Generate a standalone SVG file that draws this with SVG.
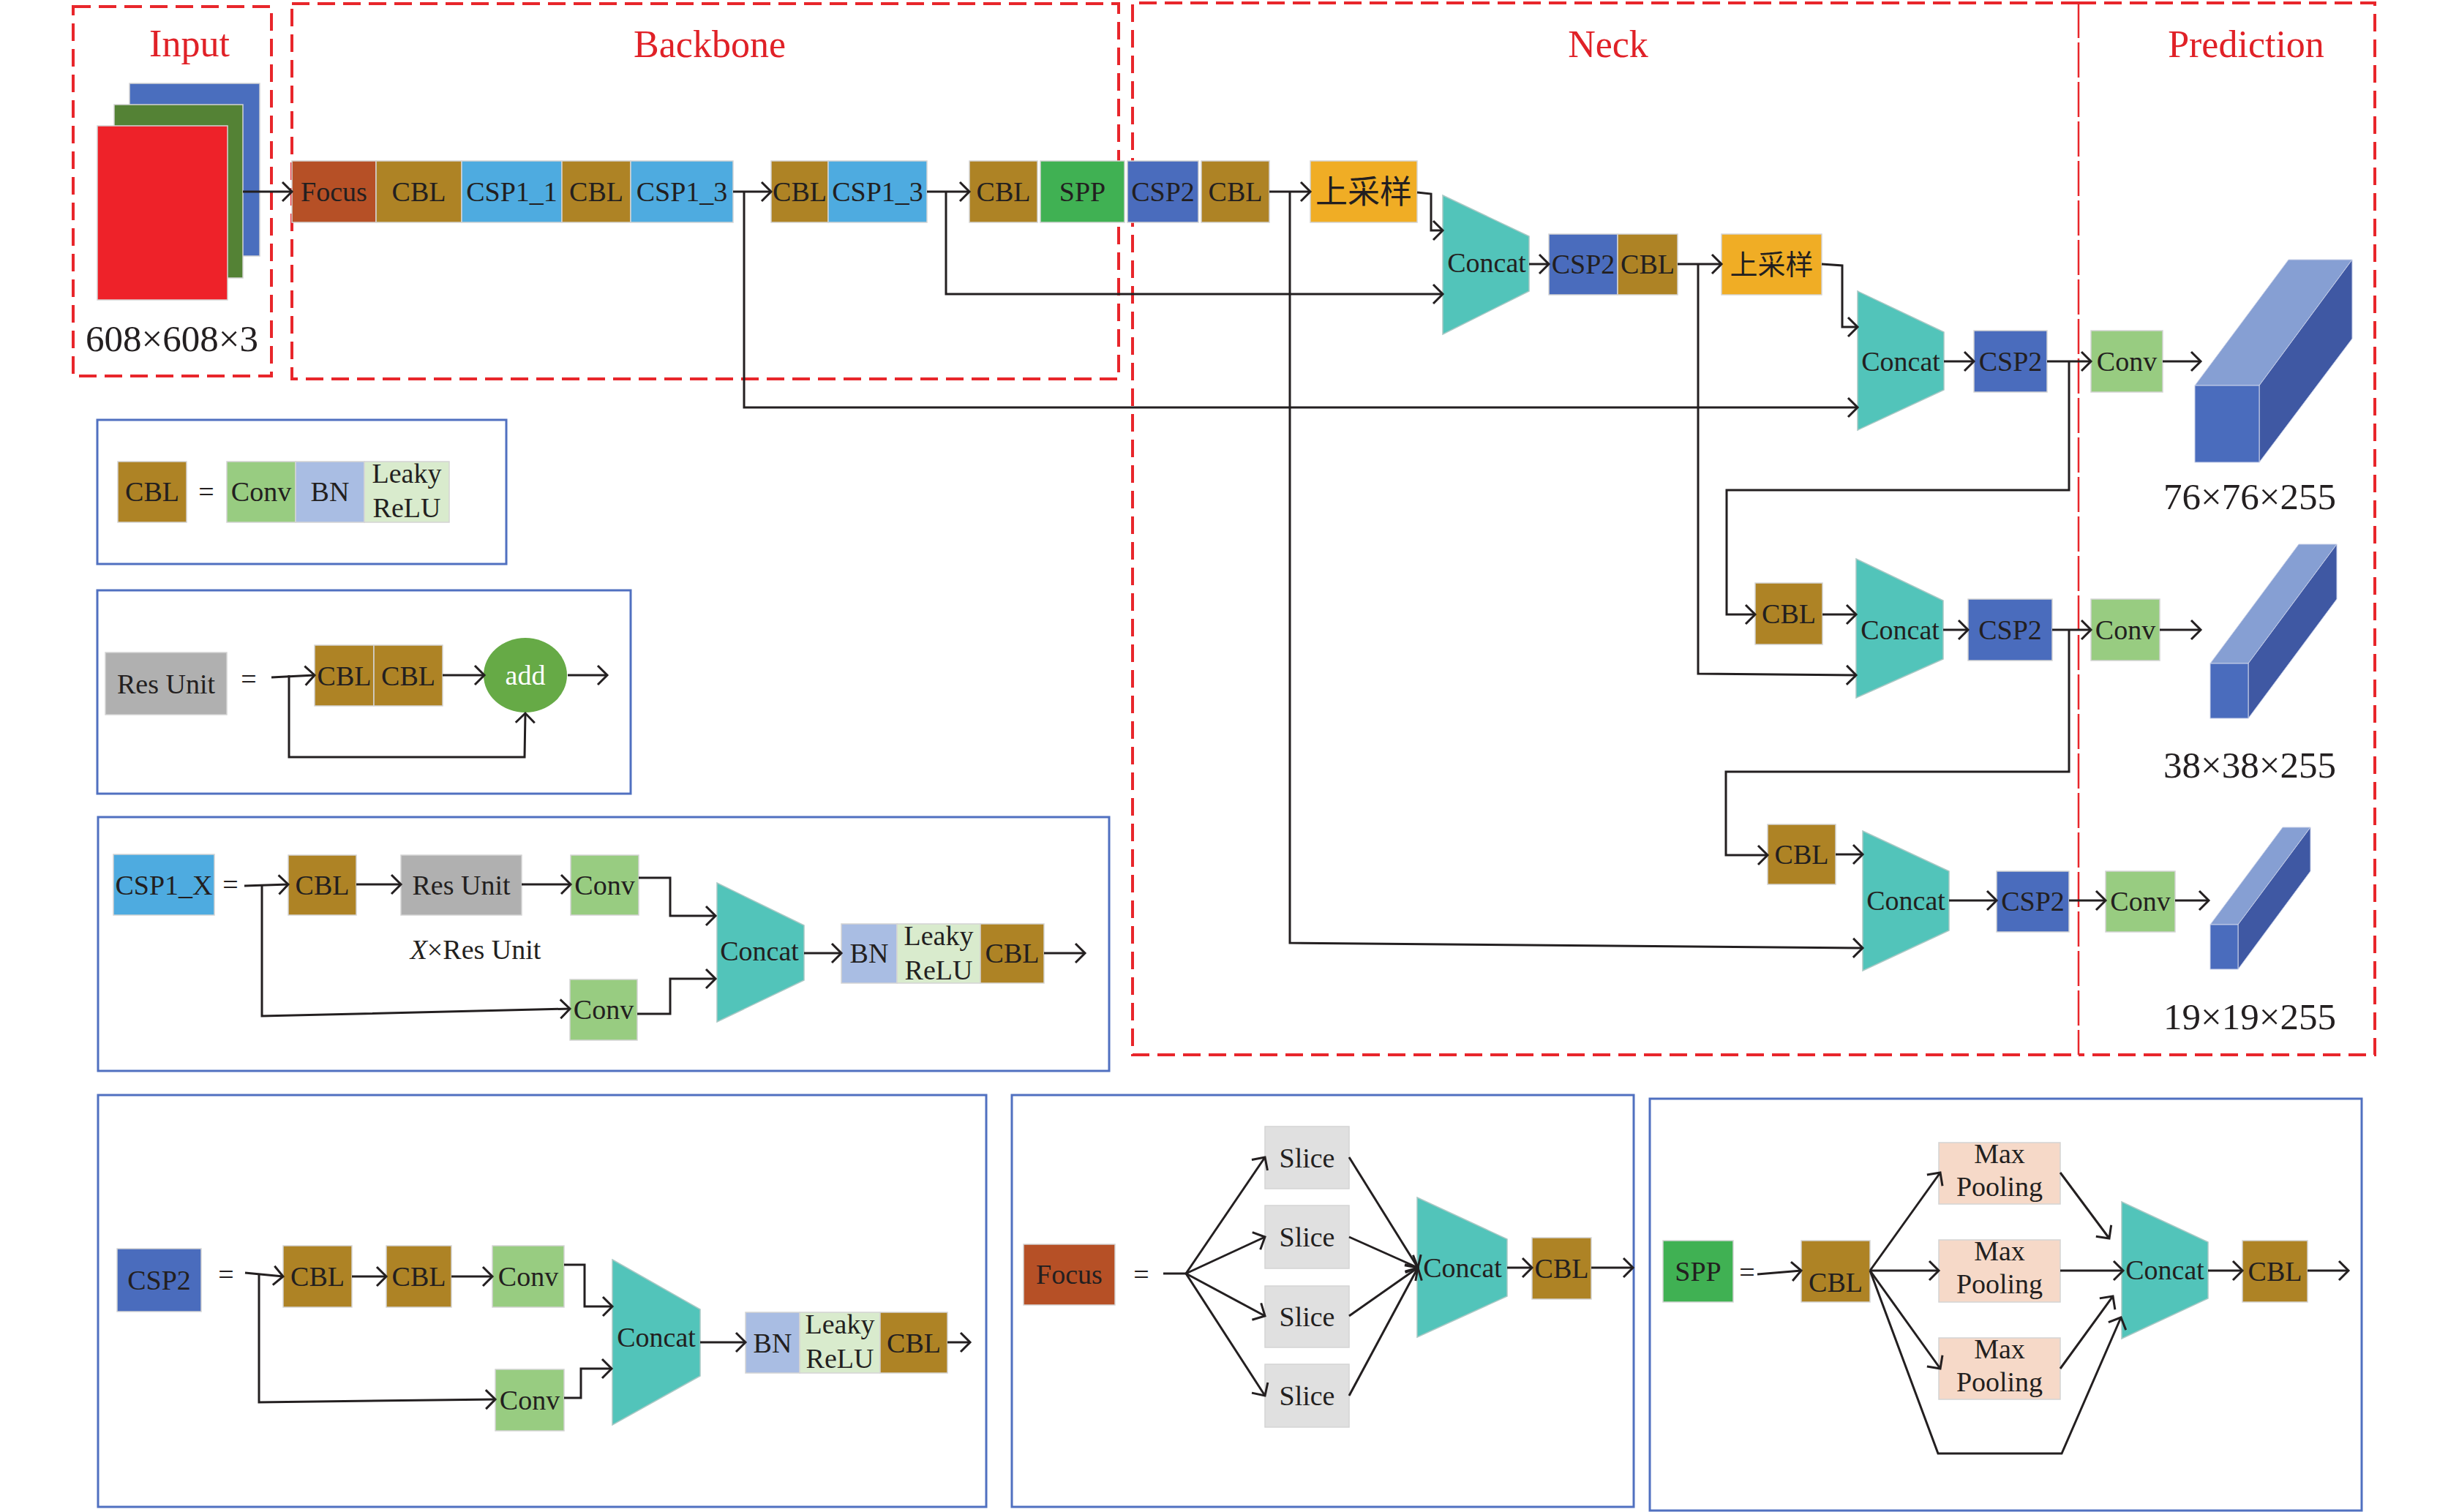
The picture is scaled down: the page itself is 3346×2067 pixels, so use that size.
<svg xmlns="http://www.w3.org/2000/svg" width="3346" height="2067" viewBox="0 0 3346 2067">
<style>
text{font-family:"Liberation Serif","Times New Roman",serif;font-size:38px;fill:#231F20;text-anchor:middle}
.title{font-size:52px;fill:#E02127}
.num{font-size:51px}
.cjk{font-family:"Noto Sans CJK SC","Noto Sans CJK JP",sans-serif}
.w{fill:#FFFFFF}
.ln{fill:none;stroke:#231F20;stroke-width:3;marker-end:url(#ah)}
.pl{fill:none;stroke:#231F20;stroke-width:3}
.dash{fill:none;stroke:#E8262B;stroke-width:4;stroke-dasharray:24 11}
.div{fill:none;stroke:#E8262B;stroke-width:2.5;stroke-dasharray:48 6}
.lg{fill:none;stroke:#5070C0;stroke-width:3}
.b{stroke:#D4D4D4;stroke-width:1.5}
.cbl{fill:#AE8325}.focus{fill:#B65026}.csp1{fill:#4EABE0}.csp2{fill:#4A6CBD}.spp{fill:#40B153}
.ups{fill:#F0AD25}.conv{fill:#98CC81}.bn{fill:#A9BDE3}.leaky{fill:#D9EBCD}.res{fill:#B0B0B0}
.slice{fill:#E0E0E0}.mp{fill:#F6D9C8}.concat{fill:#52C4BA;stroke:#A8C8C4;stroke-width:1.5}
.front{fill:#4A6CBD;stroke:#C8D0E8;stroke-width:1}.top{fill:#869FD3;stroke:#C8D0E8;stroke-width:1}.side{fill:#3F58A3;stroke:#C8D0E8;stroke-width:1}
</style>
<defs>
<marker id="ah" markerUnits="userSpaceOnUse" markerWidth="18" markerHeight="30" refX="15" refY="15" orient="auto">
<path d="M2,2 L15,15 L2,28" fill="none" stroke="#231F20" stroke-width="3"/>
</marker>
</defs>
<rect width="3346" height="2067" fill="#FFFFFF"/>

<g id="frames">
<rect class="dash" x="100" y="9" width="271" height="505"/>
<rect class="dash" x="399" y="5" width="1130" height="513"/>
<path class="dash" d="M2841,4 H1548 V1442 H2841"/>
<path class="dash" d="M2841,4 H3246 V1442 H2841"/>
<path class="div" d="M2841,4 V1442"/>
<text class="title" x="259" y="77">Input</text>
<text class="title" x="970" y="78">Backbone</text>
<text class="title" x="2198" y="78">Neck</text>
<text class="title" x="3070" y="78">Prediction</text>
</g>

<g id="input">
<rect x="177" y="114" width="178" height="236" fill="#4A6EBE" class="b"/>
<rect x="156" y="143" width="176" height="237" fill="#548235" class="b"/>
<rect x="133" y="172" width="178" height="238" fill="#EE2229" class="b"/>
<text class="num" x="235" y="480">608×608×3</text>
</g>

<g id="backbone">
<rect class="focus b" x="399" y="220" width="115" height="84"/><text x="456.5" y="275">Focus</text>
<rect class="cbl b" x="514" y="220" width="117" height="84"/><text x="572.5" y="275">CBL</text>
<rect class="csp1 b" x="631" y="220" width="137" height="84"/><text x="699.5" y="275">CSP1_1</text>
<rect class="cbl b" x="768" y="220" width="94" height="84"/><text x="815" y="275">CBL</text>
<rect class="csp1 b" x="862" y="220" width="140" height="84"/><text x="932" y="275">CSP1_3</text>
<rect class="cbl b" x="1054" y="220" width="78" height="84"/><text x="1093" y="275">CBL</text>
<rect class="csp1 b" x="1132" y="220" width="135" height="84"/><text x="1199.5" y="275">CSP1_3</text>
<rect class="cbl b" x="1325" y="220" width="93" height="84"/><text x="1371.5" y="275">CBL</text>
<rect class="spp b" x="1422" y="220" width="115" height="84"/><text x="1479.5" y="275">SPP</text>
</g>

<g id="neck">
<rect class="csp2 b" x="1541" y="220" width="97" height="84"/><text x="1589.5" y="275">CSP2</text>
<rect class="cbl b" x="1642" y="220" width="93" height="84"/><text x="1688.5" y="275">CBL</text>
<rect class="ups b" x="1791" y="220" width="146" height="84"/><text class="cjk" x="1864" y="278" style="font-size:44px">上采样</text>
<polygon class="concat" points="1972,267 2090,323 2090,398 1972,457"/><text x="2032" y="372">Concat</text>
<rect class="csp2 b" x="2117" y="320" width="94" height="83"/><text x="2164" y="374">CSP2</text>
<rect class="cbl b" x="2211" y="320" width="82" height="83"/><text x="2252" y="374">CBL</text>
<rect class="ups b" x="2353" y="320" width="137" height="83"/><text class="cjk" x="2421.5" y="375">上采样</text>
<polygon class="concat" points="2539,398 2657,454 2657,533 2539,588"/><text x="2598" y="507">Concat</text>
<rect class="csp2 b" x="2698" y="452" width="100" height="84"/><text x="2748" y="507">CSP2</text>
<rect class="cbl b" x="2399" y="797" width="92" height="84"/><text x="2445" y="852">CBL</text>
<polygon class="concat" points="2537,764 2656,821 2656,901 2537,954"/><text x="2597" y="874">Concat</text>
<rect class="csp2 b" x="2690" y="819" width="115" height="84"/><text x="2747.5" y="874">CSP2</text>
<rect class="cbl b" x="2416" y="1127" width="93" height="82"/><text x="2462.5" y="1181">CBL</text>
<polygon class="concat" points="2546,1136 2664,1191 2664,1272 2546,1327"/><text x="2605" y="1244">Concat</text>
<rect class="csp2 b" x="2729" y="1191" width="99" height="83"/><text x="2778.5" y="1245">CSP2</text>
</g>

<g id="prediction">
<rect class="conv b" x="2858" y="452" width="98" height="84"/><text x="2907" y="507">Conv</text>
<rect class="conv b" x="2858" y="819" width="94" height="84"/><text x="2905" y="874">Conv</text>
<rect class="conv b" x="2878" y="1191" width="95" height="83"/><text x="2925.5" y="1245">Conv</text>
<polygon class="top" points="3000,527 3128,355 3215,355 3088,527"/>
<polygon class="side" points="3088,527 3215,355 3215,463 3088,632"/>
<rect class="front" x="3000" y="527" width="88" height="105"/>
<polygon class="top" points="3021,907 3142,744 3194,744 3073,907"/>
<polygon class="side" points="3073,907 3194,744 3194,819 3073,982"/>
<rect class="front" x="3021" y="907" width="52" height="75"/>
<polygon class="top" points="3021,1264 3120,1131 3158,1131 3059,1264"/>
<polygon class="side" points="3059,1264 3158,1131 3158,1191 3059,1325"/>
<rect class="front" x="3021" y="1264" width="38" height="61"/>
<text class="num" x="3075" y="696">76×76×255</text>
<text class="num" x="3075" y="1063">38×38×255</text>
<text class="num" x="3075" y="1407">19×19×255</text>
</g>

<g id="legend-cbl">
<rect class="lg" x="133" y="574" width="559" height="197"/>
<rect class="cbl b" x="161" y="631" width="94" height="83"/><text x="208" y="685">CBL</text>
<text x="282" y="685">=</text>
<rect class="conv b" x="310" y="631" width="94" height="83"/><text x="357" y="685">Conv</text>
<rect class="bn b" x="404" y="631" width="94" height="83"/><text x="451" y="685">BN</text>
<rect class="leaky b" x="498" y="631" width="116" height="83"/><text x="556" y="660">Leaky</text><text x="556" y="707">ReLU</text>
</g>

<g id="legend-res">
<rect class="lg" x="133" y="807" width="729" height="278"/>
<rect class="res b" x="144" y="892" width="166" height="85"/><text x="227" y="948">Res Unit</text>
<text x="340" y="941">=</text>
<rect class="cbl b" x="430" y="882" width="81" height="83"/><text x="470.5" y="937">CBL</text>
<rect class="cbl b" x="511" y="882" width="94" height="83"/><text x="558" y="937">CBL</text>
<ellipse cx="718" cy="923" rx="57" ry="51" fill="#66AA46"/><text class="w" x="718" y="936">add</text>
</g>

<g id="legend-csp1">
<rect class="lg" x="134" y="1117" width="1382" height="347"/>
<rect class="csp1 b" x="155" y="1168" width="138" height="83"/><text x="224" y="1223">CSP1_X</text>
<text x="315" y="1222">=</text>
<rect class="cbl b" x="394" y="1169" width="93" height="82"/><text x="440.5" y="1223">CBL</text>
<rect class="res b" x="548" y="1169" width="165" height="82"/><text x="630.5" y="1223">Res Unit</text>
<rect class="conv b" x="780" y="1169" width="93" height="82"/><text x="826.5" y="1223">Conv</text>
<text x="650" y="1311"><tspan font-style="italic">X</tspan>×Res Unit</text>
<rect class="conv b" x="779" y="1339" width="92" height="83"/><text x="825" y="1393">Conv</text>
<polygon class="concat" points="980,1207 1099,1265 1099,1340 980,1397"/><text x="1038" y="1313">Concat</text>
<rect class="bn b" x="1150" y="1263" width="76" height="81"/><text x="1188" y="1316">BN</text>
<rect class="leaky b" x="1226" y="1263" width="114" height="81"/><text x="1283" y="1292">Leaky</text><text x="1283" y="1339">ReLU</text>
<rect class="cbl b" x="1340" y="1263" width="87" height="81"/><text x="1383.5" y="1316">CBL</text>
</g>

<g id="legend-csp2">
<rect class="lg" x="134" y="1497" width="1214" height="563"/>
<rect class="csp2 b" x="160" y="1707" width="115" height="86"/><text x="217.5" y="1763">CSP2</text>
<text x="309" y="1755">=</text>
<rect class="cbl b" x="387" y="1703" width="94" height="84"/><text x="434" y="1758">CBL</text>
<rect class="cbl b" x="528" y="1703" width="89" height="84"/><text x="572.5" y="1758">CBL</text>
<rect class="conv b" x="673" y="1703" width="98" height="84"/><text x="722" y="1758">Conv</text>
<rect class="conv b" x="677" y="1872" width="94" height="84"/><text x="724" y="1927">Conv</text>
<polygon class="concat" points="837,1722 957,1790 957,1881 837,1948"/><text x="897" y="1841">Concat</text>
<rect class="bn b" x="1019" y="1794" width="74" height="83"/><text x="1056" y="1849">BN</text>
<rect class="leaky b" x="1093" y="1794" width="110" height="83"/><text x="1148" y="1823">Leaky</text><text x="1148" y="1870">ReLU</text>
<rect class="cbl b" x="1203" y="1794" width="92" height="83"/><text x="1249" y="1849">CBL</text>
</g>

<g id="legend-focus">
<rect class="lg" x="1383" y="1497" width="850" height="563"/>
<rect class="focus b" x="1399" y="1701" width="125" height="83"/><text x="1461.5" y="1755">Focus</text>
<text x="1560" y="1755">=</text>
<rect class="slice b" x="1729" y="1540" width="115" height="85"/><text x="1786.5" y="1596">Slice</text>
<rect class="slice b" x="1729" y="1648" width="115" height="86"/><text x="1786.5" y="1704">Slice</text>
<rect class="slice b" x="1729" y="1758" width="115" height="84"/><text x="1786.5" y="1813">Slice</text>
<rect class="slice b" x="1729" y="1865" width="115" height="86"/><text x="1786.5" y="1921">Slice</text>
<polygon class="concat" points="1937,1637 2060,1694 2060,1772 1937,1828"/><text x="1999" y="1746">Concat</text>
<rect class="cbl b" x="2094" y="1692" width="81" height="84"/><text x="2134.5" y="1747">CBL</text>
</g>

<g id="legend-spp">
<rect class="lg" x="2255" y="1502" width="973" height="563"/>
<rect class="spp b" x="2273" y="1696" width="96" height="84"/><text x="2321" y="1751">SPP</text>
<text x="2388" y="1752">=</text>
<rect class="cbl b" x="2462" y="1696" width="94" height="84"/><text x="2509" y="1766">CBL</text>
<rect class="mp b" x="2650" y="1562" width="166" height="84"/><text x="2733" y="1590">Max</text><text x="2733" y="1635">Pooling</text>
<rect class="mp b" x="2650" y="1695" width="166" height="85"/><text x="2733" y="1723">Max</text><text x="2733" y="1768">Pooling</text>
<rect class="mp b" x="2650" y="1829" width="166" height="84"/><text x="2733" y="1857">Max</text><text x="2733" y="1902">Pooling</text>
<polygon class="concat" points="2900,1643 3018,1698 3018,1775 2900,1830"/><text x="2959" y="1749">Concat</text>
<rect class="cbl b" x="3065" y="1696" width="89" height="84"/><text x="3109.5" y="1751">CBL</text>
</g>

<g id="connectors">
<path class="ln" d="M332,262 H399"/>
<path class="ln" d="M1002,262 H1054"/>
<path class="ln" d="M1267,262 H1325"/>
<path class="ln" d="M1735,262 H1791"/>
<path class="ln" d="M1017,262 V557 H2539"/>
<path class="ln" d="M1293,262 V402 H1972"/>
<path class="ln" d="M1763,262 V1289 L2546,1296"/>
<path class="ln" d="M1937,263 L1956,265 V315 H1972"/>
<path class="ln" d="M2090,361 H2117"/>
<path class="ln" d="M2293,361 H2353"/>
<path class="ln" d="M2321,361 V921 L2537,923"/>
<path class="ln" d="M2490,361 L2518,363 V447 H2539"/>
<path class="ln" d="M2657,494 H2698"/>
<path class="ln" d="M2798,494 H2858"/>
<path class="ln" d="M2828,494 V670 H2360 V840 H2399"/>
<path class="ln" d="M2956,494 H3008"/>
<path class="ln" d="M2491,840 H2537"/>
<path class="ln" d="M2656,861 H2690"/>
<path class="ln" d="M2805,861 H2858"/>
<path class="ln" d="M2828,861 V1055 H2359 V1169 H2416"/>
<path class="ln" d="M2952,861 H3008"/>
<path class="ln" d="M2509,1168 H2546"/>
<path class="ln" d="M2664,1231 H2729"/>
<path class="ln" d="M2828,1231 H2878"/>
<path class="ln" d="M2973,1231 H3019"/>

<path class="ln" d="M371,926 L430,923"/>
<path class="ln" d="M605,923 H662"/>
<path class="ln" d="M776,923 H830"/>
<path class="ln" d="M395,923 V1035 H717 L718,975"/>

<path class="ln" d="M334,1211 L394,1209"/>
<path class="ln" d="M487,1209 H548"/>
<path class="ln" d="M713,1209 H780"/>
<path class="ln" d="M358,1209 V1389 L779,1379"/>
<path class="ln" d="M873,1200 H916 V1252 H978"/>
<path class="ln" d="M871,1386 H916 V1338 H978"/>
<path class="ln" d="M1099,1303 H1150"/>
<path class="ln" d="M1427,1303 H1483"/>

<path class="ln" d="M335,1740 L387,1745"/>
<path class="ln" d="M481,1745 H528"/>
<path class="ln" d="M617,1745 H673"/>
<path class="ln" d="M354,1743 V1917 L677,1913"/>
<path class="ln" d="M771,1729 H799 V1786 H837"/>
<path class="ln" d="M771,1911 H794 V1871 H836"/>
<path class="ln" d="M957,1835 H1019"/>
<path class="ln" d="M1295,1835 H1326"/>

<path class="pl" d="M1590,1741 H1621"/>
<path class="ln" d="M1621,1741 L1729,1582"/>
<path class="ln" d="M1621,1741 L1729,1691"/>
<path class="ln" d="M1621,1741 L1729,1799"/>
<path class="ln" d="M1621,1741 L1729,1908"/>
<path class="ln" d="M1844,1582 L1938,1733"/>
<path class="ln" d="M1844,1691 L1938,1733"/>
<path class="ln" d="M1844,1799 L1938,1733"/>
<path class="ln" d="M1844,1908 L1938,1733"/>
<path class="ln" d="M2060,1733 H2094"/>
<path class="ln" d="M2175,1733 H2232"/>

<path class="ln" d="M2402,1742 L2462,1737"/>
<path class="ln" d="M2556,1737 L2652,1603"/>
<path class="ln" d="M2556,1737 H2650"/>
<path class="ln" d="M2556,1737 L2652,1871"/>
<path class="ln" d="M2556,1737 L2649,1987 H2818 L2899,1801"/>
<path class="ln" d="M2816,1603 L2883,1693"/>
<path class="ln" d="M2816,1737 H2902"/>
<path class="ln" d="M2816,1871 L2888,1772"/>
<path class="ln" d="M3018,1737 H3065"/>
<path class="ln" d="M3154,1737 H3210"/>
</g>
</svg>
